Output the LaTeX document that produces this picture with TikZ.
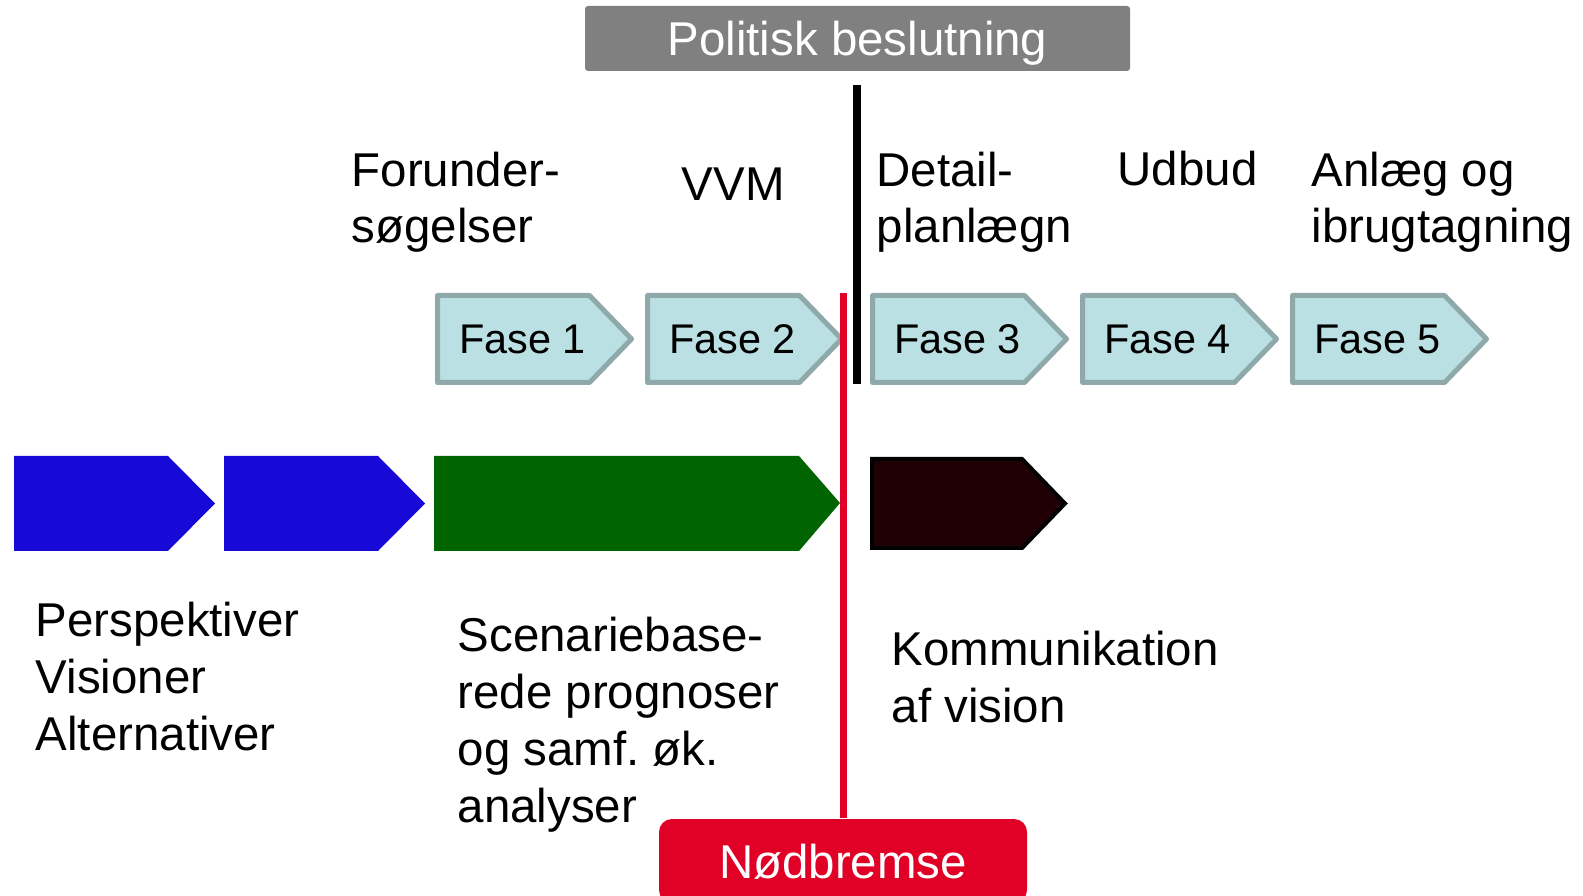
\documentclass[tikz,border=0pt]{standalone}
\usepackage{fontspec}
\setmainfont{Liberation Sans}
\frenchspacing
\definecolor{faseFill}{RGB}{187,224,227}
\definecolor{faseLine}{RGB}{143,169,171}
\definecolor{visBlue}{RGB}{23,10,214}
\definecolor{progGreen}{RGB}{0,100,0}
\definecolor{komDark}{RGB}{32,0,5}
\definecolor{brakeRed}{RGB}{225,0,38}
\begin{document}
\begin{tikzpicture}[
    lbl/.style={font=\fontsize{13.5}{16.2}\selectfont, align=left, anchor=base west, inner sep=0pt},
    fasebox/.style={fill=faseFill, draw=faseLine, line width=0.05cm, line join=round},
    fasetxt/.style={font=\fontsize{11.8}{14}\selectfont, inner sep=0pt},
    bigbox/.style={text=white, font=\fontsize{13.5}{16.2}\selectfont, inner sep=0pt, text depth=0pt}
]
    \useasboundingbox (0,0) rectangle (15.83,8.95);
    \clip (0,0) rectangle (15.83,8.95);

    % Decision boxes
    \node[bigbox, fill=gray, rounded corners=0.03cm, minimum width=5.45cm, minimum height=0.65cm] (besl) at (8.575,8.565) {Politisk beslutning};
    \node[bigbox, fill=brakeRed, rounded corners=0.13cm, minimum width=3.68cm, minimum height=0.84cm] (bremse) at (8.43,0.34) {Nødbremse};

    % Phase names (base = last line)
    \node[lbl] (forund) at (3.51,6.52) {Forunder-\\søgelser};
    \node[lbl] (vvm) at (6.81,6.94) {VVM};
    \node[lbl] (detail) at (8.76,6.52) {Detail-\\planlægn};
    \node[lbl] (udbud) at (11.17,7.09) {Udbud};
    \node[lbl] (anlaeg) at (13.11,6.52) {Anlæg og\\ibrugtagning};

    % Phase arrows
    \foreach \x/\n in {4.375/1,6.475/2,8.725/3,10.825/4,12.925/5} {
        \draw[fasebox] (\x,5.995) -- ++(1.52,0) -- ++(0.42,-0.435) -- ++(-0.42,-0.435) -- ++(-1.52,0) -- cycle;
        \node[fasetxt] (fase\n) at (\x+0.85,5.56) {Fase \n};
    }

    % Lower arrows
    \foreach \x in {0.14,2.24} {
        \fill[visBlue] (\x,4.39) -- ++(1.54,0) -- ++(0.47,-0.475) -- ++(-0.47,-0.475) -- ++(-1.54,0) -- cycle;
    }
    \fill[progGreen] (4.34,4.39) -- (7.99,4.39) -- (8.40,3.92) -- (7.99,3.44) -- (4.34,3.44) -- cycle;
    \draw[fill=komDark, line width=0.04cm] (8.72,4.36) -- (10.22,4.36) -- (10.65,3.915) -- (10.22,3.47) -- (8.72,3.47) -- cycle;

    % Decision lines
    \coordinate (beslTop) at (8.57,8.10);
    \coordinate (beslBot) at (8.57,5.11);
    \draw[line width=0.08cm] (beslTop) -- (beslBot);
    \coordinate (bremseTop) at (8.43,6.02);
    \draw[brakeRed, line width=0.07cm] (bremse.north) -- (bremseTop);

    % Descriptions
    \node[lbl] (persp) at (0.35,1.45) {Perspektiver\\Visioner\\Alternativer};
    \node[lbl] (scen) at (4.57,0.73) {Scenariebase-\\rede prognoser\\og samf. øk.\\analyser};
    \node[lbl] (komm) at (8.91,1.73) {Kommunikation\\af vision};

\end{tikzpicture}
\end{document}
